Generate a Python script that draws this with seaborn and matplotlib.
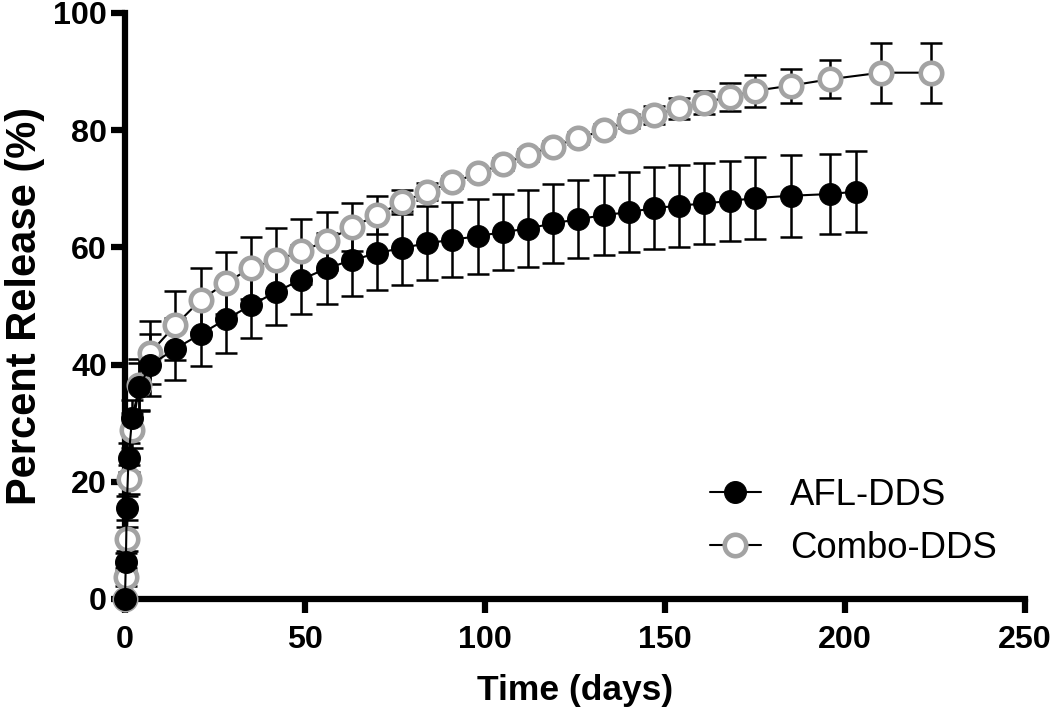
import numpy as np
import pandas as pd
import matplotlib
matplotlib.use("Agg")
import matplotlib.pyplot as plt
import seaborn as sns

# sampling times (days)
early_days = [0, 0.25, 0.5, 1, 2, 4, 7]
weekly_days = list(range(14, 176, 7))
afl_days = early_days + weekly_days + [185, 196, 203]
combo_days = early_days + weekly_days + [185, 196, 210, 224]

# cumulative release (%) and SD
afl_release = [0, 6.3, 15.5, 24.1, 30.9, 36.2, 39.9,
               42.7, 45.2, 47.7, 50.1, 52.4, 54.5, 56.4, 57.8, 59.0, 59.9, 60.7, 61.3,
               61.9, 62.6, 63.2, 64.1, 64.8, 65.5, 66.0, 66.7, 67.1, 67.5, 67.9, 68.4,
               68.8, 69.1, 69.5]
afl_sd = [0, 1.5, 2.0, 2.5, 3.0, 4.0, 5.3,
          5.3, 5.4, 5.7, 5.6, 5.6, 5.9, 6.0, 6.1, 6.3, 6.3, 6.3, 6.4,
          6.4, 6.5, 6.6, 6.7, 6.7, 6.8, 6.8, 7.0, 7.0, 6.9, 6.9, 7.0,
          7.0, 6.9, 6.9]

combo_release = [0, 3.8, 10.2, 20.4, 28.8, 36.5, 42.0,
                 46.7, 51.0, 53.9, 56.5, 57.8, 59.3, 61.1, 63.4, 65.5, 67.7, 69.5, 71.1,
                 72.6, 74.2, 75.8, 77.2, 78.6, 80.0, 81.5, 82.6, 83.7, 84.7, 85.7, 86.7,
                 87.6, 88.7, 89.8, 89.8]
combo_sd = [0, 1.5, 2.0, 2.5, 3.0, 4.5, 5.4,
            5.9, 5.4, 5.3, 5.3, 5.5, 5.5, 5.0, 4.1, 3.3, 2.0, 1.5, 1.0,
            1.0, 1.0, 1.0, 1.0, 1.0, 1.0, 1.2, 1.5, 1.8, 2.0, 2.4, 2.7,
            2.9, 3.3, 5.1, 5.1]

afl = pd.DataFrame({"day": afl_days, "release": afl_release, "sd": afl_sd})
combo = pd.DataFrame({"day": combo_days, "release": combo_release, "sd": combo_sd})

sns.set_style("ticks", {"axes.edgecolor": "black", "text.color": "black",
                        "axes.labelcolor": "black", "xtick.color": "black",
                        "ytick.color": "black"})
plt.rcParams["font.family"] = ["Liberation Sans", "DejaVu Sans"]

fig = plt.figure(figsize=(7, 4.78), dpi=150)
ax = fig.add_axes([0.119, 0.1646, 0.857, 0.8174])

# error bars (black) behind markers
for d in (combo, afl):
    ax.errorbar(d["day"], d["release"], yerr=d["sd"], fmt="none", ecolor="black",
                elinewidth=1.2, capsize=5.2, capthick=1.2, zorder=2, clip_on=False)

sns.lineplot(data=combo, x="day", y="release", ax=ax, color="black", lw=1.0,
             marker="o", markersize=10.3, markerfacecolor="white",
             markeredgecolor="#a3a3a3", markeredgewidth=2.2,
             label="Combo-DDS", zorder=3, clip_on=False)
sns.lineplot(data=afl, x="day", y="release", ax=ax, color="black", lw=1.0,
             marker="o", markersize=10.5, markerfacecolor="black",
             markeredgecolor="black", markeredgewidth=0.5,
             label="AFL-DDS", zorder=4, clip_on=False)

ax.set_xlim(0, 250)
ax.set_ylim(0, 100)
ax.set_xticks([0, 50, 100, 150, 200, 250])
ax.set_yticks([0, 20, 40, 60, 80, 100])
for s in ("left", "bottom"):
    ax.spines[s].set_linewidth(3.0)
sns.despine(ax=ax)
ax.tick_params(width=3.0, length=6.5, labelsize=15.5, color="black", labelcolor="black")
ax.tick_params(axis="x", pad=6)
ax.tick_params(axis="y", pad=2)
for lab in ax.get_xticklabels() + ax.get_yticklabels():
    lab.set_fontweight("bold")

ax.set_xlabel("Time (days)", fontsize=17, fontweight="bold", labelpad=9, color="black")
ax.set_ylabel("Percent Release (%)", fontsize=20, fontweight="bold", labelpad=4, color="black")

handles, labels = ax.get_legend_handles_labels()
order = [labels.index("AFL-DDS"), labels.index("Combo-DDS")]
leg = ax.legend([handles[i] for i in order], [labels[i] for i in order],
                frameon=False, fontsize=17.5, loc="lower right",
                bbox_to_anchor=(1.005, 0.0), handlelength=1.4, handletextpad=0.8,
                labelspacing=0.5)
for t in leg.get_texts():
    t.set_color("black")

fig.savefig("out.png", dpi=150)
